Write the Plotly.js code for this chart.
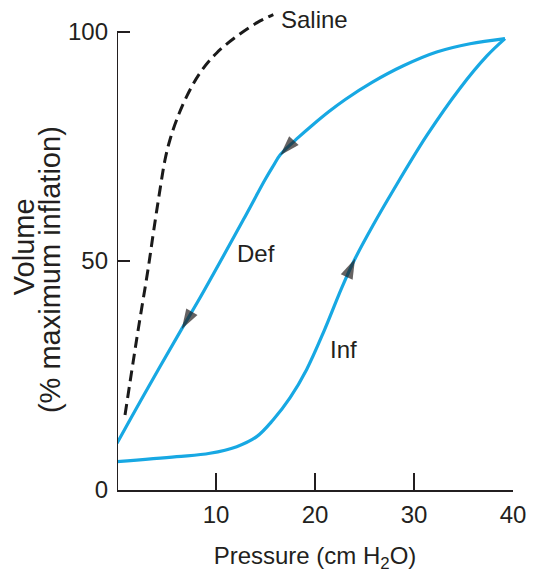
<!DOCTYPE html>
<html>
<head>
<meta charset="utf-8">
<script src="https://cdn.plot.ly/plotly-3.0.1.min.js"></script>
<style>html,body{margin:0;padding:0;background:#fff;}#chart{width:545px;height:579px;}</style>
</head>
<body>
<div id="chart"></div>
<script>
// Saline-filled lung (dashed)
const salineP = [0.81, 1.46, 2.17, 3.16, 3.67, 4.34, 4.85, 5.35, 6.03, 7.04, 8.38, 10.07, 12.09, 14.11, 15.79];
const salineV = [16.38, 25.55, 35.37, 48.47, 56.05, 65.50, 72.05, 76.42, 80.79, 85.87, 90.98, 95.35, 98.97, 101.90, 103.71];
// Air-filled lung, inflation limb
const infP = [0.0, 6.03, 9.39, 12.09, 14.11, 15.76, 17.47, 19.16, 20.94, 22.70, 24.04, 25.89, 27.91, 31.28, 34.65, 37.34, 39.19];
const infV = [6.18, 7.27, 8.01, 9.45, 11.64, 15.28, 20.09, 26.31, 34.83, 44.10, 50.44, 57.86, 65.39, 77.29, 87.66, 94.65, 98.47];
// Air-filled lung, deflation limb
const defP = [39.19, 35.66, 32.29, 28.92, 25.76, 23.06, 21.38, 19.70, 18.35, 16.49, 15.76, 14.95, 12.76, 8.21, 6.54, 2.66, 0.0];
const defV = [98.47, 97.36, 95.55, 92.55, 88.93, 85.20, 82.51, 79.52, 76.97, 73.14, 70.63, 67.69, 58.95, 41.27, 35.15, 20.52, 10.20];
// direction arrows: [point before, arrow tip]
const arrowDef1P = [17.58, 16.49], arrowDef1V = [75.55, 73.03];
const arrowDef2P = [8.21, 6.54], arrowDef2V = [41.27, 35.15];
const arrowInfP = [22.70, 24.04], arrowInfV = [44.10, 50.44];
// ticks
const xTicks = [10, 20, 30, 40];
const xTickText = ['10', '20', '30', '40'];
const yTicks = [0, 50, 100];
const yTickText = ['0', '50', '100'];
// curve labels
const labelText = ['Saline', 'Air', 'Def', 'Inf'];
const labelP = [16.4, 40.2, 11.9, 21.3];
const labelV = [102.6, 98.3, 51.7, 30.6];

const FONT = "'Liberation Sans', Arial, Helvetica, sans-serif";
const INK = '#231f20';
const BLUE = '#17a8e3';

function arrowTrace(px, py) {
  return {
    x: px, y: py, type: 'scatter', mode: 'markers', hoverinfo: 'skip', showlegend: false,
    marker: {symbol: 'arrow', size: [0, 21], color: INK, angleref: 'previous', line: {width: 0}}
  };
}

const traces = [
  {x: salineP, y: salineV, type: 'scatter', mode: 'lines', name: 'Saline',
   line: {color: '#1a1a1a', width: 3, dash: '11px,6px', shape: 'spline', smoothing: 1}},
  {x: infP, y: infV, type: 'scatter', mode: 'lines', name: 'Inf',
   line: {color: BLUE, width: 3.2, shape: 'spline', smoothing: 1}},
  {x: defP, y: defV, type: 'scatter', mode: 'lines', name: 'Def',
   line: {color: BLUE, width: 3.2, shape: 'spline', smoothing: 1}},
  arrowTrace(arrowDef1P, arrowDef1V),
  arrowTrace(arrowDef2P, arrowDef2V),
  arrowTrace(arrowInfP, arrowInfV)
];

const annotations = labelText.map((t, i) => ({
  x: labelP[i], y: labelV[i], xref: 'x', yref: 'y', text: t, showarrow: false,
  xanchor: 'left', yanchor: 'middle', font: {family: FONT, size: 24, color: INK}
}));
annotations.push({
  x: -0.236, y: 53.1, xref: 'paper', yref: 'y', text: 'Volume', textangle: -90,
  showarrow: false, xanchor: 'center', yanchor: 'middle', font: {family: FONT, size: 29, color: INK}
});
annotations.push({
  x: -0.169, y: 48.0, xref: 'paper', yref: 'y', text: '(% maximum inflation)', textangle: -90,
  showarrow: false, xanchor: 'center', yanchor: 'middle', font: {family: FONT, size: 29, color: INK}
});

const layout = {
  width: 545, height: 579,
  margin: {l: 117, r: 32, t: 11, b: 89},
  paper_bgcolor: '#fff', plot_bgcolor: '#fff',
  showlegend: false,
  font: {family: FONT, color: INK},
  xaxis: {
    range: [0, 40], showgrid: false, zeroline: false,
    showline: true, linecolor: INK, linewidth: 2,
    ticks: 'inside', ticklen: 17, tickwidth: 2, tickcolor: INK,
    tickvals: xTicks, ticktext: xTickText, ticklabelstandoff: 2,
    tickfont: {family: FONT, size: 24, color: INK},
    title: {text: 'Pressure (cm H<sub>2</sub>O)', font: {family: FONT, size: 24, color: INK}, standoff: 20}
  },
  yaxis: {
    range: [0, 104.5], showgrid: false, zeroline: false, showline: false,
    ticks: 'inside', ticklen: 13, tickwidth: 2, tickcolor: INK,
    tickvals: yTicks, ticktext: yTickText, ticklabelstandoff: 8,
    tickfont: {family: FONT, size: 24, color: INK}
  },
  shapes: [{type: 'line', xref: 'x', yref: 'y', x0: 0, x1: 0, y0: 0, y1: 100,
            line: {color: INK, width: 2}}],
  annotations: annotations
};

Plotly.newPlot('chart', traces, layout, {displayModeBar: false, staticPlot: true});
</script>
</body>
</html>
